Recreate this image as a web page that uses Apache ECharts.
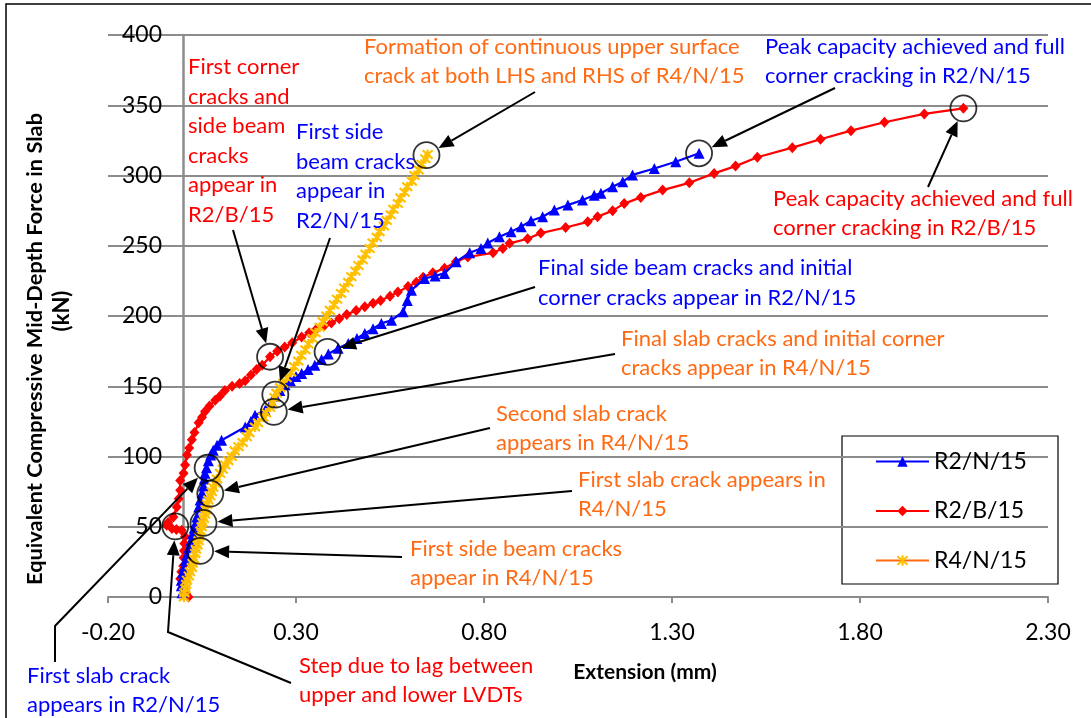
<!DOCTYPE html>
<html><head><meta charset="utf-8">
<script src="https://cdn.jsdelivr.net/npm/echarts@6/dist/echarts.min.js"></script>
<style>html,body{margin:0;padding:0;background:#fff}#c{width:1091px;height:718px}</style>
</head><body><div id="c"></div>
<script>
// ---------- data ----------
const xTickValues = [-0.2, 0.3, 0.8, 1.3, 1.8, 2.3];
const yMin = 0, yMax = 400, yStep = 50;
const seriesNames = ['R2/N/15', 'R2/B/15', 'R4/N/15'];

const r2nPoints = [[-0.003,3],[-0.005,8],[-0.005,12],[-0.002,17],[0.002,21],[0.006,26],[0.010,30],[0.015,35],[0.020,40],[0.025,45],[0.029,49],[0.032,52],[0.036,57],[0.041,64],[0.045,69],[0.050,74],[0.054,79],[0.056,84],[0.058,88],[0.062,92],[0.067,97],[0.073,101],[0.080,104.5],[0.090,108],[0.102,111.6],[0.165,121],[0.180,125],[0.191,129.4],[0.218,133],[0.235,139],[0.245,143],[0.257,147],[0.271,151],[0.285,154],[0.300,157],[0.315,159],[0.332,162],[0.350,165],[0.368,169],[0.386,173],[0.412,177],[0.439,180.5],[0.462,184],[0.483,187.6],[0.505,191],[0.527,194.7],[0.554,197],[0.585,203],[0.596,211],[0.607,218.4],[0.642,226.7],[0.670,228.5],[0.695,230.3],[0.726,238.6],[0.762,245],[0.792,248],[0.810,252],[0.841,256.4],[0.872,260],[0.899,263.6],[0.925,267.8],[0.956,270.6],[0.987,275.4],[1.023,279],[1.062,282.5],[1.093,286],[1.111,287.3],[1.142,292],[1.169,295.6],[1.195,300.4],[1.253,305],[1.310,309.8],[1.372,315.8]];

const r2bPoints = [[0.014,0],[0.008,2],[0.005,5],[-0.002,9],[-0.008,13],[-0.005,18],[0.000,22],[0.001,28],[0.002,33],[0.003,38],[0.005,43],[-0.004,47.5],[-0.018,48],[-0.030,48.7],[-0.044,51],[-0.040,53],[-0.026,57],[-0.017,64],[-0.012,70],[-0.008,76],[-0.008,83],[0.001,88],[0.005,94],[0.010,101],[0.016,106],[0.023,112],[0.030,117],[0.041,124],[0.050,128],[0.058,132],[0.070,136],[0.085,140],[0.098,143],[0.111,147],[0.130,150],[0.150,152],[0.165,154],[0.180,158],[0.195,162],[0.210,165],[0.231,171],[0.250,175],[0.270,178],[0.290,181],[0.315,185],[0.335,188],[0.355,191],[0.375,193],[0.394,195],[0.415,198],[0.435,201],[0.460,204],[0.483,206.5],[0.505,209],[0.525,211],[0.550,214],[0.571,217],[0.598,221],[0.620,224],[0.638,227.6],[0.664,230.8],[0.695,233.9],[0.725,238.6],[0.757,242],[0.824,245],[0.850,248],[0.868,251.7],[0.916,255],[0.951,259],[1.017,263],[1.076,267],[1.102,270.6],[1.142,275],[1.173,280],[1.217,284.4],[1.275,289.6],[1.346,294.8],[1.412,301.5],[1.469,306.7],[1.527,313],[1.620,319.8],[1.695,325.8],[1.776,331.9],[1.865,337.9],[1.971,343.8],[2.075,347.8]];

const r4nPoints = [[0.002,0],[0.003,3],[0.006,6],[0.008,9],[0.010,12],[0.015,15],[0.018,18],[0.023,21],[0.025,24],[0.029,27],[0.032,31],[0.034,34],[0.038,37],[0.041,40],[0.043,43],[0.046,47],[0.049,50],[0.051,53],[0.055,56],[0.058,59],[0.060,62],[0.064,66],[0.067,69],[0.072,72],[0.076,75],[0.080,78],[0.086,81],[0.090,84],[0.098,88],[0.105,91],[0.112,94],[0.120,97],[0.129,100],[0.137,104],[0.147,107],[0.158,110],[0.169,114],[0.176,117],[0.191,121],[0.199,124],[0.213,128],[0.220,131],[0.231,135],[0.237,138],[0.243,142],[0.248,145],[0.258,149],[0.266,152],[0.275,156],[0.287,160],[0.295,164],[0.306,168],[0.314,172],[0.325,176],[0.333,180],[0.344,184],[0.352,188],[0.363,192],[0.371,196],[0.381,200],[0.390,204],[0.401,208],[0.409,212],[0.420,216],[0.428,220],[0.439,224],[0.447,228],[0.458,232],[0.466,236],[0.477,240],[0.485,244],[0.496,248],[0.504,252],[0.515,256],[0.522,260],[0.534,264],[0.541,268],[0.552,272],[0.559,276],[0.571,280],[0.578,284],[0.589,288],[0.596,292],[0.608,296],[0.615,300],[0.626,304],[0.634,308],[0.644,312],[0.650,315]];

// annotation circles (data coordinates)
const circleXs = [-0.021, 0.065, 0.045, 0.054, 0.072, 0.241, 0.245, 0.231, 0.384, 0.647, 1.372, 2.075];
const circleYs = [50.3, 92, 32.8, 52.7, 73.6, 131.8, 144, 171, 174.5, 314.5, 315.8, 347.8];

const RED = '#FF0000', BLUE = '#0000FF', ORANGE = '#FF6A13';
const notes = [
  {t:['First corner','cracks and','side beam','cracks','appear in','R2/B/15'], c:RED, x:188, y:67, lh:29.5},
  {t:['First side','beam cracks','appear in','R2/N/15'], c:BLUE, x:296, y:132, lh:29.5},
  {t:['Formation of continuous upper surface','crack at both LHS and RHS of R4/N/15'], c:ORANGE, x:364, y:47, lh:29},
  {t:['Peak capacity achieved and full','corner cracking in R2/N/15'], c:BLUE, x:765, y:47, lh:29},
  {t:['Peak capacity achieved and full','corner cracking in R2/B/15'], c:RED, x:773, y:199, lh:29},
  {t:['Final side beam cracks and initial','corner cracks appear in R2/N/15'], c:BLUE, x:538, y:268, lh:30},
  {t:['Final slab cracks and initial corner','cracks appear in R4/N/15'], c:ORANGE, x:621, y:339, lh:29},
  {t:['Second slab crack','appears in R4/N/15'], c:ORANGE, x:496, y:414, lh:28.5},
  {t:['First slab crack appears in','R4/N/15'], c:ORANGE, x:578, y:480, lh:28.5},
  {t:['First side beam cracks','appear in R4/N/15'], c:ORANGE, x:410, y:549, lh:28.5},
  {t:['First slab crack','appears in R2/N/15'], c:BLUE, x:27, y:676, lh:29},
  {t:['Step due to lag between','upper and lower LVDTs'], c:RED, x:299, y:666, lh:29}
];
// leader paths (pixel start points) -> index of target circle
const arrows = [
  {pts:[[233,230]], to:7},
  {pts:[[330,238]], to:6},
  {pts:[[535,92]], to:9},
  {pts:[[835,88]], to:10},
  {pts:[[928,187]], to:11},
  {pts:[[535,287]], to:8},
  {pts:[[615,354]], to:5},
  {pts:[[490,428]], to:4},
  {pts:[[572,491]], to:3},
  {pts:[[402,557]], to:2},
  {pts:[[55,662],[55,626]], to:1},
  {pts:[[291,683],[168,632]], to:0}
];

// ---------- chart ----------
const FONT = 'Lato';
const chart = echarts.init(document.getElementById('c'));
const starPath = 'path://M0,0L10,10M10,0L0,10M5,-1L5,11';

chart.setOption({
  animation: false,
  grid: {left: 108, right: 43, top: 35, bottom: 121, containLabel: false},
  xAxis: {
    type: 'value', min: xTickValues[0], max: xTickValues[xTickValues.length-1],
    axisLine: {onZero: false, lineStyle: {color: '#8C8C8C', width: 2}},
    axisTick: {show: true, customValues: xTickValues, length: 6, lineStyle: {color: '#8C8C8C', width: 2}},
    axisLabel: {customValues: xTickValues, formatter: v => v.toFixed(2), color: '#000', fontFamily: FONT, fontSize: 23, margin: 24},
    splitLine: {show: false}
  },
  yAxis: {
    type: 'value', min: yMin, max: yMax, interval: yStep,
    axisLine: {show: true, onZero: true, lineStyle: {color: '#8C8C8C', width: 2.5}},
    axisTick: {show: false},
    axisLabel: {color: '#000', fontFamily: FONT, fontSize: 23, margin: -54},
    splitLine: {show: true, lineStyle: {color: '#8C8C8C', width: 2}}
  },
  legend: {
    data: seriesNames, orient: 'vertical', left: 875, top: 450, padding: 0,
    itemWidth: 53, itemHeight: 13, itemGap: 26.5,
    textStyle: {fontFamily: FONT, fontSize: 23, color: '#000'}
  },
  series: [
    {name: seriesNames[0], type: 'line', data: r2nPoints, symbol: 'triangle', symbolSize: 11,
     lineStyle: {color: BLUE, width: 2.25}, itemStyle: {color: BLUE}, z: 3},
    {name: seriesNames[1], type: 'line', data: r2bPoints, symbol: 'diamond', symbolSize: [10, 11],
     lineStyle: {color: RED, width: 2.25}, itemStyle: {color: RED}, z: 2},
    {name: seriesNames[2], type: 'line', data: r4nPoints, symbol: starPath, symbolSize: 10,
     lineStyle: {color: ORANGE, width: 1.5},
     itemStyle: {color: '#FFC000', borderColor: '#FFC000', borderWidth: 2.2}, z: 4},
    {name: 'circles', type: 'scatter', data: circleXs.map((x, i) => [x, circleYs[i]]),
     symbol: 'circle', symbolSize: 26, silent: true, z: 10,
     itemStyle: {color: 'rgba(0,0,0,0)', borderColor: '#000', borderWidth: 1.8}}
  ]
});

function buildGraphics() {
  const g = [];
  g.push({type: 'rect', shape: {x: 6, y: 4, width: 1200, height: 1000}, style: {fill: 'none', stroke: '#000', lineWidth: 1.5}, silent: true, z: 0});
  g.push({type: 'rect', shape: {x: 842, y: 436, width: 216, height: 148}, style: {fill: '#fff', stroke: '#000', lineWidth: 1.2}, silent: true, z: -1});
  notes.forEach(n => {
    g.push({type: 'text', x: n.x, y: n.y - n.lh / 2, silent: true, z: 20,
      style: {text: n.t.join('\n'), fill: n.c, fontFamily: FONT, fontSize: 22, lineHeight: n.lh, align: 'left', verticalAlign: 'top'}});
  });
  const R = 13;
  arrows.forEach(a => {
    const c = chart.convertToPixel({gridIndex: 0}, [circleXs[a.to], circleYs[a.to]]);
    const last = a.pts[a.pts.length - 1];
    let dx = c[0] - last[0], dy = c[1] - last[1];
    const L = Math.hypot(dx, dy); dx /= L; dy /= L;
    const tip = [c[0] - dx * (R + 1), c[1] - dy * (R + 1)];
    const base = [tip[0] - dx * 15, tip[1] - dy * 15];
    const nx = -dy, ny = dx;
    g.push({type: 'polyline', shape: {points: a.pts.concat([base])}, style: {stroke: '#000', lineWidth: 2, fill: 'none'}, silent: true, z: 20});
    g.push({type: 'polygon', shape: {points: [tip, [base[0] + nx * 6.5, base[1] + ny * 6.5], [base[0] - nx * 6.5, base[1] - ny * 6.5]]}, style: {fill: '#000'}, silent: true, z: 20});
  });
  g.push({type: 'text', x: 35, y: 585, rotation: Math.PI / 2, silent: true,
    style: {text: 'Equivalent Compressive Mid-Depth Force in Slab', fill: '#000', fontFamily: FONT, fontSize: 21.8, fontWeight: 'bold', align: 'left', verticalAlign: 'middle'}});
  g.push({type: 'text', x: 62, y: 311, rotation: Math.PI / 2, silent: true,
    style: {text: '(kN)', fill: '#000', fontFamily: FONT, fontSize: 22, fontWeight: 'bold', align: 'center', verticalAlign: 'middle'}});
  g.push({type: 'text', x: 645, y: 672, silent: true,
    style: {text: 'Extension (mm)', fill: '#000', fontFamily: FONT, fontSize: 21, fontWeight: 'bold', align: 'center', verticalAlign: 'middle'}});
  return g;
}
chart.setOption({graphic: buildGraphics()});
</script>
</body></html>
